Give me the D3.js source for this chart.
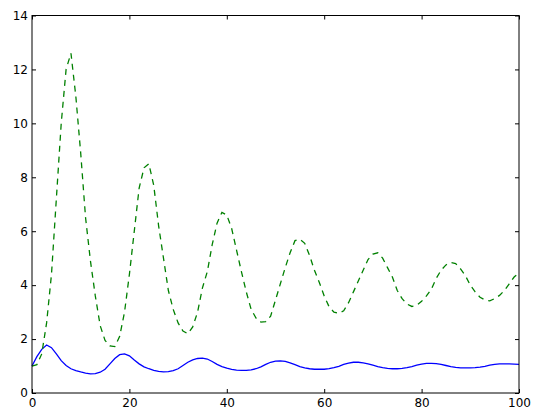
<!DOCTYPE html>
<meta charset="utf-8">
<style>
  body { margin: 0; background: #fff; }
  .axis text { font: 12px "DejaVu Sans", sans-serif; fill: #000; }
  .axis path { display: none; }
  .axis line { stroke: #000; }
</style>
<svg width="550" height="417"></svg>
<script src="https://cdn.jsdelivr.net/npm/d3@7"></script>
<script>
  // x runs 0..100 in steps of 1
  var xs = d3.range(0, 101)

  var blue = [1.0, 1.35, 1.62, 1.78, 1.68, 1.45, 1.2, 1.02, 0.9, 0.83,
    0.78, 0.74, 0.71, 0.72, 0.77, 0.88, 1.08, 1.28, 1.42, 1.45,
    1.38, 1.22, 1.08, 0.97, 0.9, 0.84, 0.8, 0.78, 0.79, 0.83,
    0.9, 1.02, 1.14, 1.23, 1.28, 1.29, 1.26, 1.17, 1.06, 0.98,
    0.92, 0.88, 0.85, 0.84, 0.84, 0.86, 0.9, 0.97, 1.06, 1.14,
    1.18, 1.19, 1.17, 1.12, 1.05, 0.98, 0.93, 0.9, 0.88, 0.88,
    0.88, 0.9, 0.94, 0.99, 1.06, 1.11, 1.14, 1.14, 1.12, 1.08,
    1.03, 0.98, 0.94, 0.91, 0.9, 0.9, 0.91, 0.94, 0.98, 1.03,
    1.07, 1.1, 1.1, 1.09, 1.06, 1.02, 0.98, 0.95, 0.93, 0.93,
    0.93, 0.94, 0.96, 0.99, 1.03, 1.06, 1.08, 1.08, 1.08, 1.07,
    1.06]

  var green = [1.0, 1.05, 1.45, 2.6, 4.4, 7.2, 10.0, 12.0, 12.6, 11.0,
    8.9, 6.5, 4.9, 3.6, 2.5, 1.95, 1.75, 1.72, 2.1, 3.0,
    4.4, 6.0, 7.6, 8.35, 8.5, 7.7, 6.2, 5.0, 3.8, 3.1,
    2.6, 2.3, 2.2, 2.45, 3.0, 3.9, 4.5, 5.5, 6.3, 6.7,
    6.6, 6.1, 5.3, 4.5, 3.75, 3.1, 2.78, 2.63, 2.65, 2.85,
    3.45, 4.05, 4.65, 5.2, 5.65, 5.7, 5.55, 5.1, 4.55, 4.1,
    3.6, 3.2, 3.0, 2.96, 3.05, 3.35, 3.75, 4.15, 4.55, 4.95,
    5.15, 5.2, 5.0, 4.65, 4.3, 3.8, 3.5, 3.3, 3.21, 3.25,
    3.4, 3.6, 3.85, 4.25, 4.55, 4.75, 4.84, 4.8, 4.6, 4.35,
    4.0, 3.75, 3.55, 3.45, 3.42, 3.5, 3.62, 3.8, 4.05, 4.3,
    4.45]

  var xTicks = [0, 20, 40, 60, 80, 100]
  var yTicks = [0, 2, 4, 6, 8, 10, 12, 14]

  var svg = d3.select("svg"),
    x0 = 32, x1 = 519, y0 = 15.5, y1 = 393

  var x = d3.scaleLinear().domain([0, 100]).range([x0, x1])
  var y = d3.scaleLinear().domain([0, 14]).range([y1, y0])

  var line = d3.line()
    .x((d, i) => x(xs[i]))
    .y(d => y(d))

  svg.append("path")
    .datum(blue)
    .attr("d", line)
    .attr("fill", "none")
    .attr("stroke", "#0000ff")
    .attr("stroke-width", 1.3)

  svg.append("path")
    .datum(green)
    .attr("d", line)
    .attr("fill", "none")
    .attr("stroke", "#008000")
    .attr("stroke-width", 1.3)
    .attr("stroke-dasharray", "6,5")

  // ticks point inward on all four sides
  svg.append("g").attr("class", "axis")
    .attr("transform", "translate(0," + y1 + ")")
    .call(d3.axisBottom(x).tickValues(xTicks).tickSize(-4).tickPadding(5))
  svg.append("g").attr("class", "axis")
    .attr("transform", "translate(0," + y0 + ")")
    .call(d3.axisTop(x).tickValues(xTicks).tickSize(-4).tickFormat(""))
  svg.append("g").attr("class", "axis")
    .attr("transform", "translate(" + x0 + ",0)")
    .call(d3.axisLeft(y).tickValues(yTicks).tickSize(-4).tickPadding(4))
  svg.append("g").attr("class", "axis")
    .attr("transform", "translate(" + x1 + ",0)")
    .call(d3.axisRight(y).tickValues(yTicks).tickSize(-4).tickFormat(""))

  svg.append("rect")
    .attr("x", x0).attr("y", y0)
    .attr("width", x1 - x0).attr("height", y1 - y0)
    .attr("fill", "none")
    .attr("stroke", "#000")
    .attr("stroke-width", 1)
</script>
